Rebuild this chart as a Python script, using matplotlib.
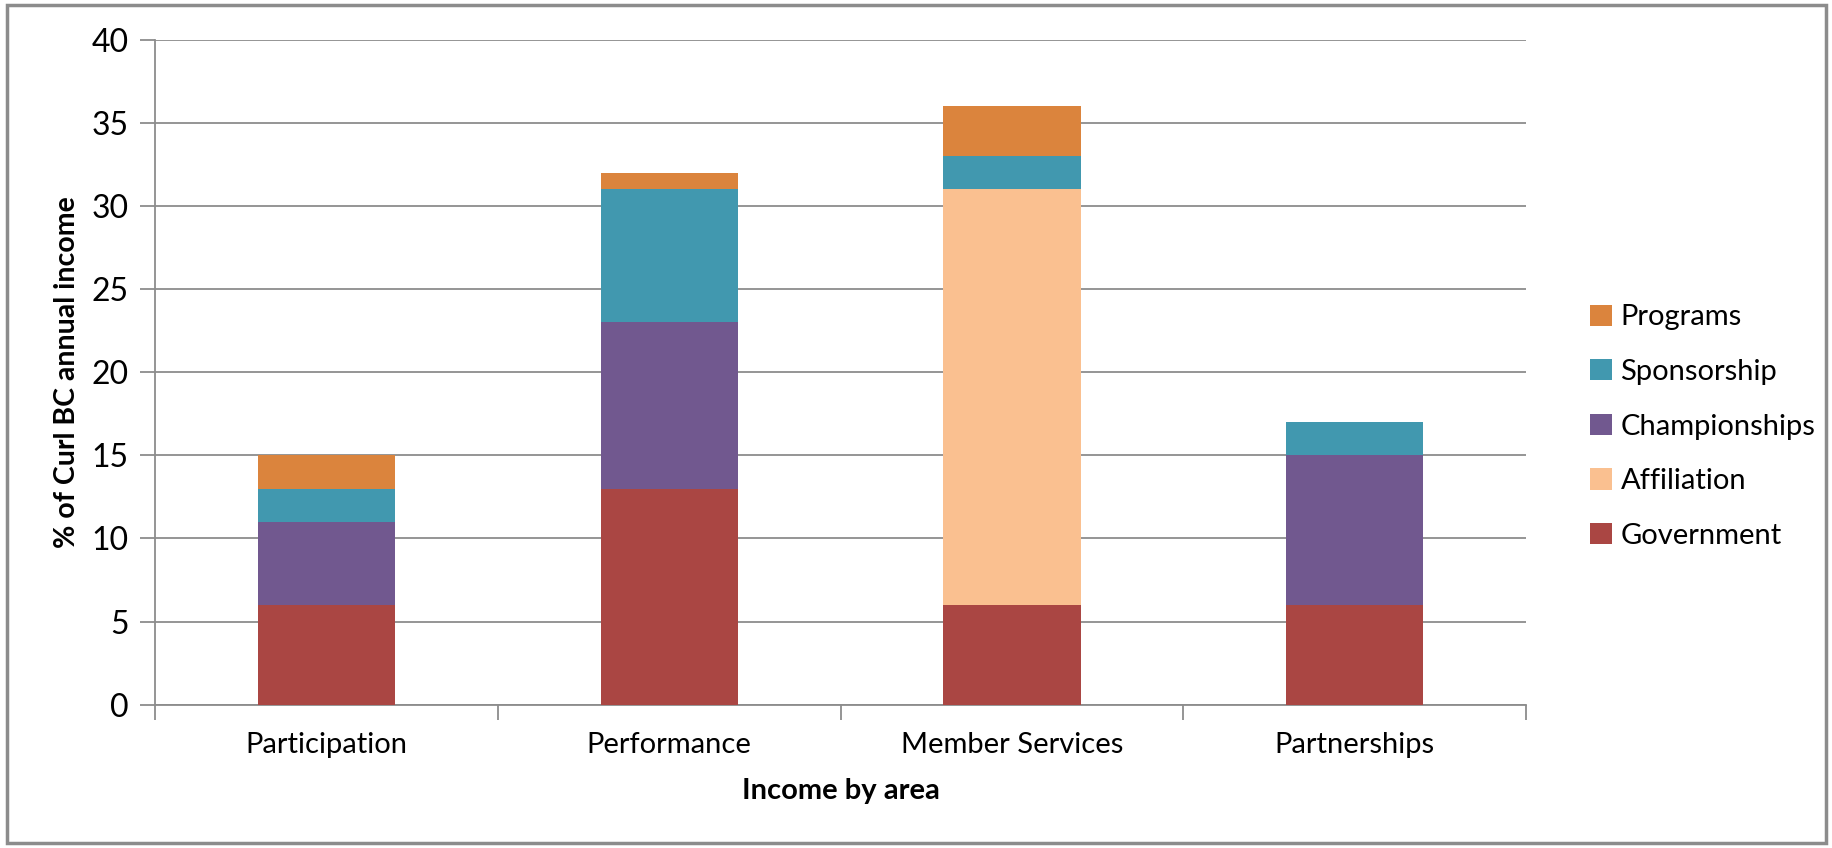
import numpy as np
import matplotlib
matplotlib.use('Agg')
import matplotlib.pyplot as plt
from matplotlib.patches import Rectangle

# ------------------------------------------------------- #

areas = ['Participation', 'Performance', 'Member Services', 'Partnerships']

# bottom to top
series_names = ['Government', 'Affiliation', 'Championships', 'Sponsorship', 'Programs']
government = [6, 13, 6, 6]
affiliation = [0, 0, 25, 0]
championships = [5, 10, 0, 9]
sponsorship = [2, 8, 2, 2]
programs = [2, 1, 3, 0]

colors = ['#AA4643', '#FAC090', '#71588F', '#4198AF', '#DB843D']


def main():
    plt.rcParams['font.family'] = ['Lato', 'DejaVu Sans']

    fig = plt.figure(figsize=(18.33, 8.48), dpi=100)
    ax = fig.add_axes([0.0846, 0.169, 0.748, 0.784])

    x = np.arange(len(areas))
    bottom = np.zeros(len(areas))
    handles = []
    for name, vals, c in zip(series_names,
                             [government, affiliation, championships, sponsorship, programs],
                             colors):
        b = ax.bar(x, vals, width=0.4, bottom=bottom, color=c, label=name, zorder=3)
        handles.append(b)
        bottom += np.array(vals)

    ax.set_xlim(-0.5, len(areas) - 0.5)
    ax.set_ylim(0, 40)
    ax.set_yticks(range(0, 41, 5))
    ax.grid(axis='y', color='#8C8C8C', linewidth=1.3, zorder=0)

    # category ticks sit between the groups
    ax.set_xticks(x)
    ax.set_xticklabels(areas, fontsize=21)
    ax.set_xticks(np.arange(-0.5, len(areas)), minor=True)
    ax.tick_params(axis='x', which='major', length=0, pad=20)
    ax.tick_params(axis='x', which='minor', length=11, color='#8C8C8C', width=1.3)
    ax.tick_params(axis='y', length=11, color='#8C8C8C', width=1.3, labelsize=23, pad=8)

    for s in ['top', 'right']:
        ax.spines[s].set_visible(False)
    for s in ['left', 'bottom']:
        ax.spines[s].set_color('#8C8C8C')
        ax.spines[s].set_linewidth(1.3)

    ax.set_ylabel('% of Curl BC annual income', fontsize=20.5, fontweight='bold', labelpad=8)
    ax.set_xlabel('Income by area', fontsize=21, fontweight='bold', labelpad=14)

    fig.legend(handles[::-1], series_names[::-1], loc='center left',
               bbox_to_anchor=(0.853, 0.497), frameon=False, fontsize=21,
               handlelength=0.75, handleheight=0.75, handletextpad=0.3,
               labelspacing=0.98)

    # outer chart border
    fig.patches.append(Rectangle((0.004, 0.006), 0.992, 0.988, transform=fig.transFigure,
                                 fill=False, edgecolor='#8C8C8C', linewidth=2.5))

    fig.savefig('out.png', dpi=100)


if __name__ == '__main__':
    main()
